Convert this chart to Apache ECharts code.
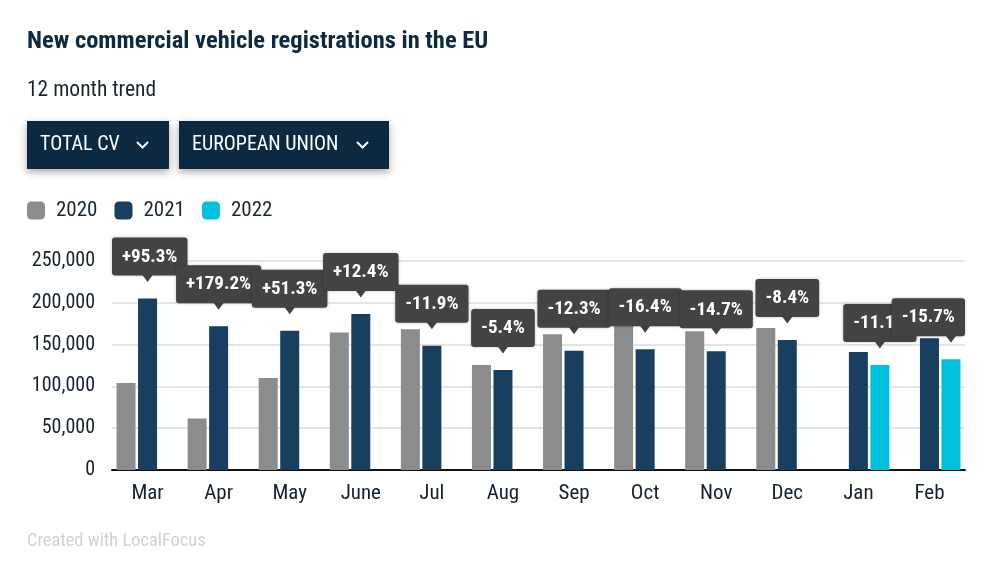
<!DOCTYPE html>
<html>
<head>
<meta charset="utf-8">
<script src="https://cdn.jsdelivr.net/npm/echarts@6/dist/echarts.min.js"></script>
<style>
html,body{margin:0;padding:0;background:#fff;}
#chart{width:1000px;height:578px;}
</style>
</head>
<body>
<div id="chart"></div>
<script>
const categories = ['Mar', 'Apr', 'May', 'June', 'Jul', 'Aug', 'Sep', 'Oct', 'Nov', 'Dec', 'Jan', 'Feb'];
const v2020 = [104000, 61500, 110000, 164500, 168500, 125500, 162500, 173000, 166000, 170000, null, null];
const v2021 = [205000, 172000, 166500, 186500, 148500, 119500, 142500, 144500, 142000, 155500, 141000, 157500];
const v2022 = [null, null, null, null, null, null, null, null, null, null, 125500, 132500];
const changeLabels = ['+95.3%', '+179.2%', '+51.3%', '+12.4%', '-11.9%', '-5.4%', '-12.3%', '-16.4%', '-14.7%', '-8.4%', '-11.1%', '-15.7%'];
const yTicks = [0, 50000, 100000, 150000, 200000, 250000];

const FONT = "'Roboto Condensed','Liberation Sans Narrow','Arial Narrow',Roboto,sans-serif";
const NAVY_TXT = '#0c2a40';
const C2020 = '#8b8c8e', C2021 = '#183f60', C2022 = '#00c1dc';
const BOX = '#434343';
const BAR_W = 19, GAP_PX = 2.5;
const LABEL_FONT = 'bold 19px ' + FONT;
const LABEL_PAD_X = 10;

// label anchors: current-year bar of each month
const labelData = categories.map((c, i) => {
  const hasNew = v2022[i] != null;
  return [i, hasNew ? v2022[i] : v2021[i], hasNew ? 1 : 0];
});

const measureCtx = document.createElement('canvas').getContext('2d');
function textWidth(t, font) { measureCtx.font = font; return measureCtx.measureText(t).width; }

const chart = echarts.init(document.getElementById('chart'), null, {renderer: 'canvas'});

function fmt(v) { return String(v).replace(/\B(?=(\d{3})+(?!\d))/g, ','); }

function button(x, w, label) {
  return {
    type: 'group', left: x, top: 121,
    children: [
      {type: 'rect', shape: {x: 0, y: 0, width: w, height: 48},
       style: {fill: '#0b2a41', shadowBlur: 8, shadowColor: 'rgba(0,0,0,0.35)', shadowOffsetY: 3}},
      {type: 'text', x: 13, y: 24, style: {text: label, fill: '#fff', font: '20px ' + FONT, verticalAlign: 'middle'}},
      {type: 'polyline', shape: {points: [[w - 32, 21], [w - 26.5, 26.5], [w - 21, 21]]},
       style: {stroke: '#fff', lineWidth: 2, fill: null}}
    ]
  };
}

chart.setOption({
  animation: false,
  graphic: [
    {type: 'text', left: 27, top: 29, style: {text: 'New commercial vehicle registrations in the EU', fill: NAVY_TXT, font: 'bold 24.5px ' + FONT}},
    {type: 'text', left: 27, top: 80, style: {text: '12 month trend', fill: '#1a2530', font: '21.5px ' + FONT}},
    button(27, 142, 'TOTAL CV'),
    button(179, 210, 'EUROPEAN UNION'),
    {type: 'text', left: 27, top: 532, style: {text: 'Created with LocalFocus', fill: '#d2d2d2', font: '18.4px ' + FONT}}
  ],
  legend: {
    data: ['2020', '2021', '2022'],
    left: 27, top: 200, padding: 0,
    icon: 'roundRect',
    itemWidth: 18, itemHeight: 18, itemGap: 17,
    textStyle: {fontFamily: FONT, fontSize: 21, color: '#1a2733', padding: [0, 0, 0, 6]}
  },
  grid: {left: 112, right: 35, top: 261, bottom: 108},
  xAxis: {
    type: 'category', data: categories,
    axisTick: {show: false},
    axisLine: {lineStyle: {color: '#111', width: 2}},
    axisLabel: {fontFamily: FONT, fontSize: 21, color: '#15222e', margin: 13}
  },
  yAxis: {
    type: 'value', min: 0, max: 250000, interval: 50000,
    axisLabel: {fontFamily: FONT, fontSize: 20, color: '#15222e', margin: 17, formatter: v => fmt(v)},
    splitLine: {lineStyle: {color: '#e4e4e4', width: 2}},
    axisLine: {show: false}, axisTick: {show: false}
  },
  series: [
    {name: '2020', type: 'bar', data: v2020, barWidth: BAR_W, barGap: (GAP_PX / BAR_W * 100) + '%', itemStyle: {color: C2020}},
    {name: '2021', type: 'bar', data: v2021, barWidth: BAR_W, barGap: (GAP_PX / BAR_W * 100) + '%', itemStyle: {color: C2021}},
    {name: '2022', type: 'bar', data: v2022, barWidth: BAR_W, barGap: (GAP_PX / BAR_W * 100) + '%', itemStyle: {color: C2022}},
    {
      type: 'custom', name: 'change', data: labelData, z: 10,
      renderItem: function (params, api) {
        const pt = api.coord([api.value(0), api.value(1)]);
        const x = pt[0] + api.value(2) * (BAR_W + GAP_PX);
        const tipY = pt[1] - 16.5;
        const boxBottom = tipY - 6.5;
        const txt = changeLabels[params.dataIndex];
        const half = textWidth(txt, LABEL_FONT) / 2 + LABEL_PAD_X;
        const cs = params.coordSys;
        const cx = Math.max(cs.x + half, Math.min(x, cs.x + cs.width - half));
        return {
          type: 'group',
          children: [
            {type: 'polygon', shape: {points: [[x - 5.5, boxBottom - 1], [x + 5.5, boxBottom - 1], [x, tipY]]}, style: {fill: BOX}},
            {type: 'text', x: cx, y: boxBottom,
             style: {text: txt, fill: '#fff', font: LABEL_FONT,
                     lineHeight: 19,
                     align: 'center', verticalAlign: 'bottom', backgroundColor: BOX,
                     padding: [10, LABEL_PAD_X, 9, LABEL_PAD_X], borderRadius: 3,
                     shadowBlur: 3, shadowColor: 'rgba(0,0,0,0.25)'}}
          ]
        };
      }
    }
  ]
});
</script>
</body>
</html>
